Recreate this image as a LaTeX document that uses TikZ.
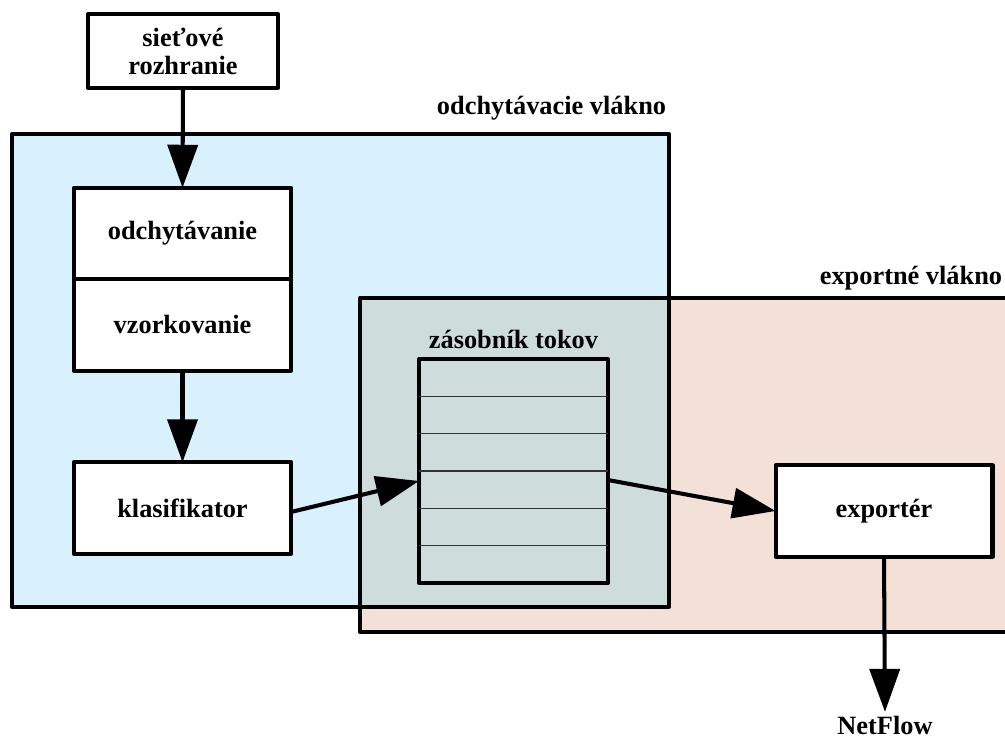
\documentclass[tikz,border=0pt]{standalone}
\usepackage{fontspec}
\setmainfont{Liberation Serif}
\usetikzlibrary{arrows.meta,calc,positioning}

\definecolor{capturebg}{HTML}{D9F1FC}
\definecolor{exportbg}{HTML}{F3E1D8}
\definecolor{sharedbg}{HTML}{CEDCDC}

\tikzset{
  blk/.style={draw, line width=2.3pt, line join=round, fill=white, outer sep=0pt,
    minimum width=4.34cm, minimum height=1.83cm, align=center,
    font=\fontsize{15}{16}\selectfont\bfseries},
  lbl/.style={font=\fontsize{15}{16}\selectfont\bfseries, inner sep=2pt},
  flow/.style={line width=2.3pt, -{Triangle[length=0.86cm,width=0.6cm]}},
}

\begin{document}
\begin{tikzpicture}[x=0.02cm,y=-0.02cm]
\useasboundingbox (0,0) rectangle (1005,740);
\clip (0,0) rectangle (1005,740);

% the two threads and their overlap
\fill[capturebg] (12,134) rectangle (669,607);
\fill[exportbg] (360,298) rectangle (1030,632);
\fill[sharedbg] (360,298) rectangle (669,607);
\draw[line width=2.3pt, line join=round] (12,134) rectangle (669,607);
\draw[line width=2.3pt, line join=round] (360,298) rectangle (1030,632);
\node[lbl, anchor=east] at (670,108) {odchytávacie vlákno};
\node[lbl, anchor=east] at (1006,278) {exportné vlákno};

\node[blk, minimum width=3.8cm, minimum height=1.48cm] (iface) at (183,51) {sieťové\\rozhranie};
\node[blk] (capture) at (182.5,233.5) {odchytávanie};
\node[blk, anchor=north] (sampling) at (capture.south) {vzorkovanie};
\node[blk] (classifier) at (182.5,508) {klasifikator};

% flow buffer
\node[blk, fill=none, minimum width=3.78cm, minimum height=4.48cm] (buffer) at (513.5,471) {};
\foreach \i in {1,...,5}
  \draw[line width=0.7pt, black!80] ($(buffer.north west)!\i/6!(buffer.south west)$)
    -- ($(buffer.north east)!\i/6!(buffer.south east)$);
\node[lbl, above=3.5pt of buffer] (buflabel) {zásobník tokov};

\node[blk] (exporter) at (884,511) {exportér};
\node[lbl] (netflow) at (885,725) {NetFlow};

\draw[flow] (iface.south) -- (capture.north);
\draw[flow] (sampling.south) -- (classifier.north);
\draw[flow] ([yshift=-0.08cm]classifier.east) -- ([yshift=-0.2cm]buffer.west);
\draw[flow] ([yshift=-0.18cm]buffer.east) -- (exporter.west);
\draw[flow] (exporter.south) -- (netflow.north);
\end{tikzpicture}
\end{document}
